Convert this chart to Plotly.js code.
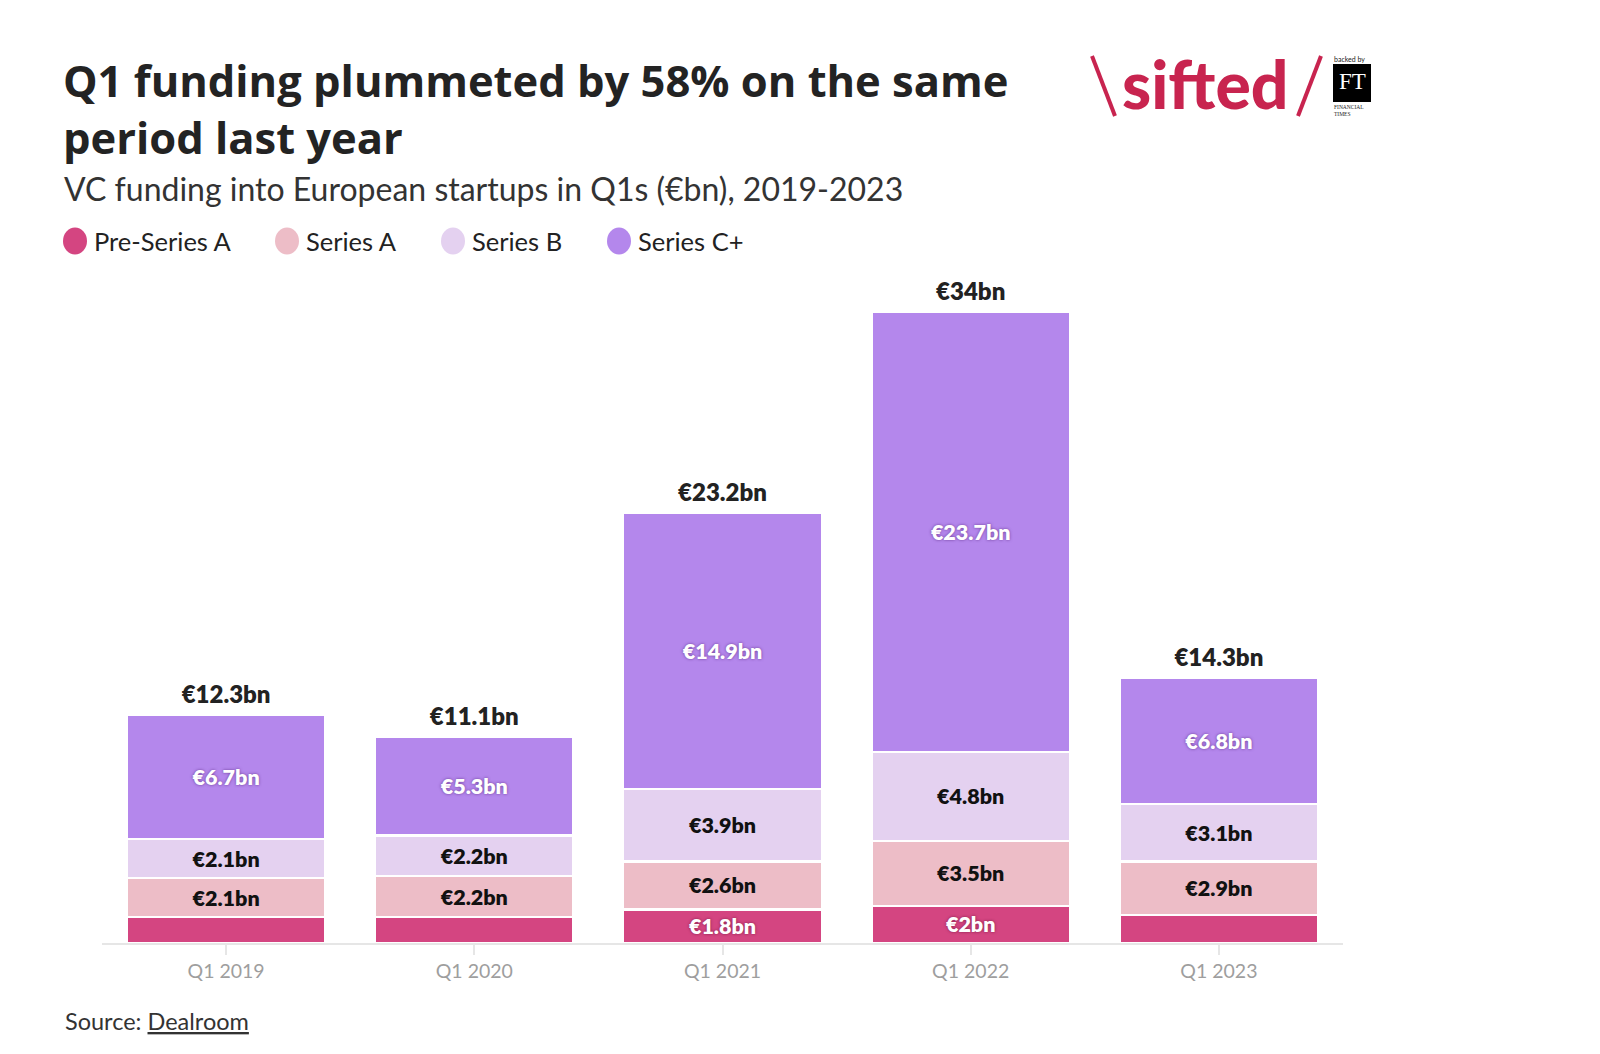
<!DOCTYPE html>
<html>
<head>
<meta charset="utf-8">
<script src="https://cdn.plot.ly/plotly-3.0.1.min.js"></script>
<style>html,body{margin:0;padding:0;background:#fff;}#chart{width:1600px;height:1054px;}</style>
</head>
<body>
<div id="chart"></div>
<script>
const categories = ['Q1 2019', 'Q1 2020', 'Q1 2021', 'Q1 2022', 'Q1 2023'];
const seriesNames = ['Pre-Series A', 'Series A', 'Series B', 'Series C+'];
const preSeriesA = [1.4, 1.4, 1.8, 2.0, 1.5];
const seriesA = [2.1, 2.2, 2.6, 3.5, 2.9];
const seriesB = [2.1, 2.2, 3.9, 4.8, 3.1];
const seriesCPlus = [6.7, 5.3, 14.9, 23.7, 6.8];

const seriesValues = [preSeriesA, seriesA, seriesB, seriesCPlus];
const colors = ['#D44581', '#EDBDC7', '#E4D1F0', '#B487EC'];
const labelColors = ['#ffffff', '#111111', '#111111', '#ffffff'];
const labelShadows = ['0px 0px 3px rgba(110,20,60,0.8)', 'none', 'none', '0px 0px 3px rgba(90,40,130,0.8)'];

const fmt = v => '\u20ac' + (Math.round(v * 10) / 10) + 'bn';
const totals = categories.map((_, i) => seriesValues.reduce((s, arr) => s + arr[i], 0));

const FONT = 'Lato, "Source Sans Pro", "Noto Sans", sans-serif';
const TITLE_FONT = '"Open Sans", "Noto Sans", sans-serif';

const W = 1600, H = 1054;
const ml = 102, mr = 257, mt = 275, mb = 111;
const pw = W - ml - mr, ph = H - mt - mb;
const px = x => (x - ml) / pw;
const py = y => (H - mb - y) / ph;

const traces = seriesValues.map((vals, k) => ({
  type: 'bar',
  name: seriesNames[k],
  x: categories,
  y: vals,
  marker: { color: colors[k], line: { color: '#ffffff', width: 2.5 } },
  text: vals.map(v => v >= 1.6 ? fmt(v) : ''),
  textposition: 'inside',
  insidetextanchor: 'middle',
  constraintext: 'none',
  textangle: 0,
  textfont: { family: FONT, size: 21.5, weight: 800, color: labelColors[k], shadow: labelShadows[k] },
  hoverinfo: 'skip',
  showlegend: false
}));

traces.push({
  type: 'scatter',
  mode: 'markers+text',
  x: categories,
  y: totals,
  marker: { size: 8, color: 'rgba(0,0,0,0)' },
  text: totals.map(fmt),
  textposition: 'top center',
  textfont: { family: FONT, size: 24, weight: 800, color: '#222222' },
  hoverinfo: 'skip',
  showlegend: false,
  cliponaxis: false
});

const annotations = [];
const shapes = [];

// Title & subtitle
annotations.push({
  xref: 'paper', yref: 'paper', x: px(61), y: py(109), xanchor: 'left', yanchor: 'middle',
  text: '<b>Q1 funding plummeted by 58% on the same<br>period last year</b>',
  align: 'left', showarrow: false,
  font: { family: TITLE_FONT, size: 43.5, color: '#232323' }
});
annotations.push({
  xref: 'paper', yref: 'paper', x: px(62), y: py(188), xanchor: 'left', yanchor: 'middle',
  text: 'VC funding into European startups in Q1s (\u20acbn), 2019-2023',
  showarrow: false,
  font: { family: FONT, size: 32, color: '#333333' }
});

// Legend
const legendCircleX = [75, 287, 453, 619];
seriesNames.forEach((n, k) => {
  const cx = legendCircleX[k];
  shapes.push({
    type: 'circle', xref: 'paper', yref: 'paper',
    x0: px(cx - 12), x1: px(cx + 12), y0: py(241 + 13.5), y1: py(241 - 13.5),
    fillcolor: colors[k], line: { width: 0 }
  });
  annotations.push({
    xref: 'paper', yref: 'paper', x: px(cx + 17), y: py(241), xanchor: 'left', yanchor: 'middle',
    text: n, showarrow: false,
    font: { family: FONT, size: 25.5, color: '#222222' }
  });
});

// Source
annotations.push({
  xref: 'paper', yref: 'paper', x: px(63), y: py(1021), xanchor: 'left', yanchor: 'middle',
  text: 'Source: <span style="text-decoration:underline">Dealroom</span>',
  showarrow: false,
  font: { family: FONT, size: 23.5, color: '#333333' }
});

// Logo: \ sifted / FT
const logoRed = '#C8244F';
shapes.push({ type: 'line', xref: 'paper', yref: 'paper', x0: px(1092), y0: py(56), x1: px(1115), y1: py(116), line: { color: logoRed, width: 4 } });
shapes.push({ type: 'line', xref: 'paper', yref: 'paper', x0: px(1321), y0: py(56), x1: px(1298), y1: py(116), line: { color: logoRed, width: 4 } });
annotations.push({
  xref: 'paper', yref: 'paper', x: px(1205), y: py(84), xanchor: 'center', yanchor: 'middle',
  text: 'sifted', showarrow: false,
  font: { family: 'Lato, sans-serif', size: 66, weight: 900, color: logoRed }
});
shapes.push({ type: 'rect', xref: 'paper', yref: 'paper', x0: px(1333), x1: px(1371), y0: py(102), y1: py(64), fillcolor: '#000000', line: { width: 0 } });
annotations.push({
  xref: 'paper', yref: 'paper', x: px(1352), y: py(82), xanchor: 'center', yanchor: 'middle',
  text: 'FT', showarrow: false,
  font: { family: '"Liberation Serif", "DejaVu Serif", serif', size: 23, color: '#ffffff' }
});
annotations.push({
  xref: 'paper', yref: 'paper', x: px(1332), y: py(59), xanchor: 'left', yanchor: 'middle',
  text: 'backed by', showarrow: false,
  font: { family: FONT, size: 7, color: '#222222' }
});
annotations.push({
  xref: 'paper', yref: 'paper', x: px(1332), y: py(111), xanchor: 'left', yanchor: 'middle',
  text: 'FINANCIAL<br>TIMES', showarrow: false, align: 'left',
  font: { family: '"Liberation Serif", serif', size: 5.5, color: '#222222' }
});

const layout = {
  width: W, height: H,
  margin: { l: ml, r: mr, t: mt, b: mb, pad: 0 },
  paper_bgcolor: '#ffffff', plot_bgcolor: '#ffffff',
  barmode: 'stack',
  bargap: 0.2,
  showlegend: false,
  font: { family: FONT },
  xaxis: {
    type: 'category',
    showline: true, linecolor: '#e6e6e6', linewidth: 2,
    ticks: 'outside', ticklen: 10, tickcolor: '#e6e6e6', tickwidth: 2,
    tickfont: { family: FONT, size: 19.5, color: '#9e9e9e' },
    showgrid: false, zeroline: false, fixedrange: true
  },
  yaxis: { range: [0, 36], visible: false, showgrid: false, zeroline: false, fixedrange: true },
  annotations: annotations,
  shapes: shapes
};

Plotly.newPlot('chart', traces, layout, { displayModeBar: false, staticPlot: true });
</script>
</body>
</html>
